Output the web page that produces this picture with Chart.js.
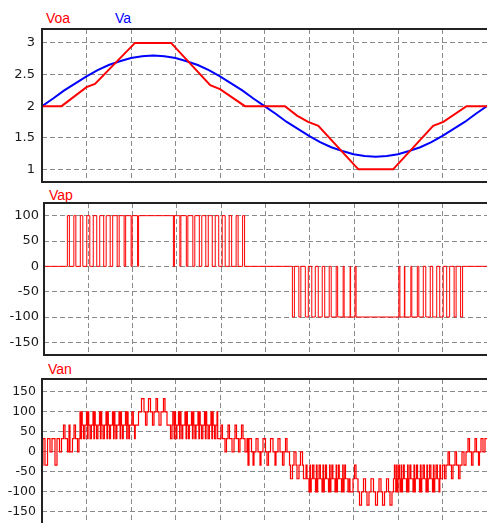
<!DOCTYPE html>
<html>
<head>
<meta charset="utf-8">
<script src="https://cdn.jsdelivr.net/npm/chart.js@4.4.1/dist/chart.umd.min.js"></script>
<style>
  html, body { margin: 0; padding: 0; background: #fff; }
  body { width: 487px; height: 523px; position: relative; overflow: hidden; }
  canvas { position: absolute; left: 0; }
  .lbl { position: absolute; font: 14px "Liberation Sans", Arial, sans-serif; line-height: 14px; white-space: nowrap; }
</style>
</head>
<body>
<div class="lbl" style="left:46px;top:11px;color:#ff0000">Voa</div>
<div class="lbl" style="left:115px;top:11px;color:#0000ff">Va</div>
<canvas id="c1" width="487" height="161" style="top:25px"></canvas>
<div class="lbl" style="left:49px;top:188px;color:#ff0000">Vap</div>
<canvas id="c2" width="487" height="160" style="top:199px"></canvas>
<div class="lbl" style="left:48px;top:362px;color:#ff0000">Van</div>
<canvas id="c3" width="487" height="157" style="top:375px"></canvas>
<script>
/* time runs over one cycle, split into 10 grid divisions */

/* y tick labels of the three panels */
const topTicks = [1, 1.5, 2, 2.5, 3];
const midTicks = [-150, -100, -50, 0, 50, 100];
const botTicks = [-150, -100, -50, 0, 50, 100, 150];

/* top panel: reference Voa (red) and Va (blue) */
const voaT = [0, 0.44, 1.0, 1.19, 2.09, 2.9, 3.78, 4.0, 4.56, 5.46, 5.73, 5.98, 6.21, 7.11, 7.89, 8.79, 9.02, 9.54, 10];
const voaV = [2, 2, 2.3, 2.35, 3, 3, 2.33, 2.27, 2, 2, 1.85, 1.75, 1.69, 1, 1, 1.69, 1.75, 2, 2];

const vaT = [0, 0.25, 0.5, 0.75, 1, 1.25, 1.5, 1.75, 2, 2.25, 2.5, 2.75, 3, 3.25, 3.5, 3.75, 4, 4.25, 4.5, 4.75,
             5, 5.25, 5.5, 5.75, 6, 6.25, 6.5, 6.75, 7, 7.25, 7.5, 7.75, 8, 8.25, 8.5, 8.75, 9, 9.25, 9.5, 9.75, 10];
const vaV = [2.00, 2.12, 2.25, 2.36, 2.47, 2.57, 2.65, 2.71, 2.76, 2.79, 2.80, 2.79, 2.76, 2.71, 2.65, 2.57, 2.47, 2.36, 2.25, 2.12,
             2.00, 1.88, 1.75, 1.64, 1.53, 1.43, 1.35, 1.29, 1.24, 1.21, 1.20, 1.21, 1.24, 1.29, 1.35, 1.43, 1.53, 1.64, 1.75, 1.88, 2.00];

/* middle panel: Vap pulses, [on, off] times at +100 and at -100 */
const vapHigh = [
  [0.528, 0.573], [0.674, 0.719], [0.820, 0.876], [0.966, 1.034], [1.112, 1.191], [1.258, 1.348],
  [1.404, 1.494], [1.551, 1.652], [1.697, 1.809], [1.843, 1.966], [1.989, 2.112], [2.135, 2.921],
  [2.944, 3.067], [3.090, 3.213], [3.247, 3.360], [3.404, 3.506], [3.562, 3.652], [3.708, 3.798],
  [3.865, 3.944], [4.022, 4.090], [4.180, 4.236], [4.337, 4.382], [4.483, 4.528]
];
const vapLow = [
  [5.607, 5.652], [5.753, 5.798], [5.899, 5.966], [6.045, 6.124], [6.191, 6.281], [6.337, 6.438],
  [6.483, 6.596], [6.629, 6.753], [6.775, 6.910], [6.921, 7.022], [7.045, 8.011],
  [8.034, 8.135], [8.146, 8.281], [8.303, 8.427], [8.461, 8.562], [8.618, 8.719], [8.775, 8.865],
  [8.933, 9.011], [9.090, 9.157], [9.258, 9.303], [9.404, 9.449]
];

/* bottom panel: Van levels, [time, level] held until the next step */
const vanSteps = [
  [0, -33], [0.022, 33], [0.067, -33], [0.124, 33], [0.180, 0], [0.225, 33], [0.292, -33], [0.337, 33],
  [0.393, 0], [0.438, 33], [0.483, 67], [0.517, 33], [0.573, 0], [0.607, 67], [0.629, 0], [0.685, 33],
  [0.719, 67], [0.753, 33], [0.798, 0], [0.831, 33],
  [0.854, 100], [0.874, 33], [0.889, 100], [0.904, 67], [0.934, 33], [0.964, 67],
  [1.000, 100], [1.020, 33], [1.035, 100], [1.050, 67], [1.080, 33], [1.110, 67],
  [1.146, 100], [1.166, 33], [1.181, 100], [1.196, 67], [1.226, 33], [1.256, 67],
  [1.292, 100], [1.312, 33], [1.327, 100], [1.342, 67], [1.372, 33], [1.402, 67],
  [1.438, 100], [1.460, 33], [1.473, 100], [1.490, 67], [1.515, 33], [1.540, 67],
  [1.584, 100], [1.608, 33], [1.620, 100], [1.638, 67], [1.660, 33], [1.682, 67],
  [1.730, 100], [1.756, 33], [1.766, 100], [1.786, 67], [1.806, 33], [1.826, 67],
  [1.876, 100], [1.904, 33], [1.914, 100], [1.934, 67], [1.950, 33], [1.966, 67],
  [2.022, 100], [2.052, 67], [2.079, 33], [2.095, 67],
  [2.169, 100], [2.236, 133], [2.292, 100], [2.326, 67], [2.360, 100], [2.393, 133],
  [2.438, 100], [2.483, 67], [2.517, 100], [2.562, 133], [2.596, 100], [2.629, 67], [2.674, 100], [2.730, 133],
  [2.764, 100], [2.809, 67], [2.888, 33],
  [2.921, 67], [2.940, 100], [2.970, 33], [2.980, 100], [3.000, 67], [3.016, 33], [3.032, 67],
  [3.067, 100], [3.093, 33], [3.103, 100], [3.123, 67], [3.143, 33], [3.163, 67],
  [3.213, 100], [3.237, 33], [3.249, 100], [3.267, 67], [3.289, 33], [3.311, 67],
  [3.359, 100], [3.381, 33], [3.394, 100], [3.411, 67], [3.436, 33], [3.461, 67],
  [3.505, 100], [3.525, 33], [3.540, 100], [3.555, 67], [3.585, 33], [3.615, 67],
  [3.651, 100], [3.671, 33], [3.686, 100], [3.701, 67], [3.731, 33], [3.761, 67],
  [3.797, 100], [3.817, 33], [3.832, 100], [3.847, 67], [3.877, 33], [3.907, 67],
  [3.933, 100], [3.948, 33],
  [4.022, 67], [4.056, 33], [4.112, 0], [4.146, 33],
  [4.180, 67], [4.213, 33], [4.270, 0], [4.315, 33], [4.337, 67], [4.371, 33], [4.416, 0], [4.449, 33],
  [4.483, 67], [4.517, 33], [4.562, 0], [4.607, 33], [4.629, -33], [4.652, 33], [4.708, 0], [4.742, -33],
  [4.764, 0], [4.809, 33], [4.854, 0], [4.899, -33], [4.921, 0], [4.966, 33], [5.022, 0], [5.056, -33],
  [5.090, 0], [5.135, 33], [5.191, 0], [5.236, -33], [5.258, 0], [5.303, 33], [5.348, 0], [5.404, -33],
  [5.438, 0], [5.472, 33], [5.506, 0], [5.562, -33], [5.584, -67], [5.629, -33], [5.663, 0], [5.708, -33],
  [5.730, -67], [5.775, -33], [5.809, 0], [5.854, -33], [5.876, -67], [5.933, -33], [5.955, -67],
  [6.000, -100], [6.020, -33], [6.035, -100], [6.050, -67], [6.080, -33], [6.110, -67],
  [6.146, -100], [6.166, -33], [6.181, -100], [6.196, -67], [6.226, -33], [6.256, -67],
  [6.292, -100], [6.314, -33], [6.327, -100], [6.344, -67], [6.369, -33], [6.394, -67],
  [6.438, -100], [6.462, -33], [6.474, -100], [6.492, -67], [6.514, -33], [6.536, -67],
  [6.584, -100], [6.610, -33], [6.620, -100], [6.640, -67], [6.660, -33], [6.680, -67],
  [6.730, -100], [6.758, -33], [6.768, -100], [6.788, -67], [6.804, -33], [6.820, -67],
  [6.876, -100], [6.906, -67], [6.921, -100], [6.989, -67], [7.022, -33], [7.056, -67],
  [7.101, -100], [7.135, -133], [7.180, -100], [7.225, -67], [7.270, -100], [7.303, -133], [7.348, -100], [7.393, -67],
  [7.449, -100], [7.494, -133], [7.539, -100], [7.573, -67], [7.618, -100], [7.652, -133], [7.697, -100], [7.742, -67],
  [7.787, -100], [7.820, -133], [7.865, -100],
  [7.899, -67], [7.920, -33], [7.935, -67], [7.950, -100], [7.970, -33], [7.980, -100], [8.000, -67], [8.016, -33], [8.032, -67],
  [8.045, -100], [8.071, -33], [8.081, -100], [8.101, -67], [8.121, -33], [8.141, -67],
  [8.191, -100], [8.215, -33], [8.227, -100], [8.245, -67], [8.267, -33], [8.289, -67],
  [8.337, -100], [8.359, -33], [8.372, -100], [8.389, -67], [8.414, -33], [8.439, -67],
  [8.483, -100], [8.503, -33], [8.518, -100], [8.533, -67], [8.563, -33], [8.593, -67],
  [8.629, -100], [8.649, -33], [8.664, -100], [8.679, -67], [8.709, -33], [8.739, -67],
  [8.775, -100], [8.795, -33], [8.810, -100], [8.825, -67], [8.855, -33], [8.885, -67],
  [8.921, -100], [8.940, -33], [8.955, -67],
  [9.000, -33], [9.045, -67], [9.079, -33], [9.124, 0],
  [9.157, -33], [9.202, -67], [9.236, -33], [9.281, 0], [9.315, -33], [9.360, -67], [9.393, -33], [9.438, 0],
  [9.483, -33], [9.528, 0], [9.573, 33], [9.607, 0], [9.652, -33], [9.685, 0], [9.730, 33], [9.764, 0],
  [9.809, -33], [9.831, 0], [9.865, 33], [9.910, 0], [9.955, 33], [10, 33]
];

function toPoints(xs, ys) {
  return xs.map((x, i) => ({x: x, y: ys[i]}));
}

/* turn on/off intervals into step points, back to 0 after every pulse */
function pulsePoints(high, low) {
  const pts = [{x: 0, y: 0}];
  high.forEach(p => { pts.push({x: p[0], y: 100}, {x: p[1], y: 0}); });
  low.forEach(p => { pts.push({x: p[0], y: -100}, {x: p[1], y: 0}); });
  pts.push({x: 10, y: 0});
  return pts;
}

/* black frame on left, top and bottom of the plot */
const framePlugin = {
  id: 'frame',
  afterDatasetsDraw(chart) {
    const {ctx, chartArea: a} = chart;
    ctx.save();
    ctx.strokeStyle = '#222';
    ctx.lineWidth = 2;
    ctx.beginPath();
    ctx.moveTo(a.right + 2, a.top);
    ctx.lineTo(a.left, a.top);
    ctx.lineTo(a.left, a.bottom);
    ctx.lineTo(a.right + 2, a.bottom);
    ctx.stroke();
    ctx.restore();
  }
};

function makePanel(id, datasets, yMin, yMax, yTicks, axisWidth, tickPad, fontSize) {
  return new Chart(document.getElementById(id), {
    type: 'line',
    data: { datasets: datasets },
    options: {
      responsive: false,
      animation: false,
      devicePixelRatio: 1,
      layout: { padding: { top: 4, bottom: 4, left: 0, right: 0 } },
      plugins: { legend: { display: false }, tooltip: { enabled: false } },
      elements: { point: { radius: 0 } },
      scales: {
        x: {
          type: 'linear', min: 0, max: 10,
          ticks: { display: false, stepSize: 1 },
          grid: { color: '#8a8a8a', lineWidth: 1, drawTicks: false },
          border: { display: false, dash: [5, 3] },
          afterFit: s => { s.height = 0; s.paddingLeft = 0; s.paddingRight = 0; }
        },
        y: {
          min: yMin, max: yMax,
          afterBuildTicks: s => { s.ticks = yTicks.map(v => ({value: v})); },
          ticks: {
            padding: tickPad, color: '#1a1a1a',
            font: { family: 'DejaVu Sans', size: fontSize },
            callback: v => String(v)
          },
          grid: { color: '#8a8a8a', lineWidth: 1, drawTicks: false },
          border: { display: false, dash: [5, 3] },
          afterFit: s => { s.width = axisWidth; s.paddingTop = 0; s.paddingBottom = 0; }
        }
      }
    },
    plugins: [framePlugin]
  });
}

makePanel('c1', [
  { label: 'Voa', data: toPoints(voaT, voaV), borderColor: '#ff0000', borderWidth: 2 },
  { label: 'Va', data: toPoints(vaT, vaV), borderColor: '#0000ff', borderWidth: 2 }
], 0.8, 3.22, topTicks, 42, 7, 13);

makePanel('c2', [
  { label: 'Vap', data: pulsePoints(vapHigh, vapLow), borderColor: '#ff0000', borderWidth: 1, stepped: true }
], -175, 125, midTicks, 44, 5, 13);

makePanel('c3', [
  { label: 'Van', data: vanSteps.map(s => ({x: s[0], y: s[1]})), borderColor: '#ff0000', borderWidth: 1.2, stepped: true }
], -190, 182, botTicks, 42, 6, 12.5);
</script>
</body>
</html>
